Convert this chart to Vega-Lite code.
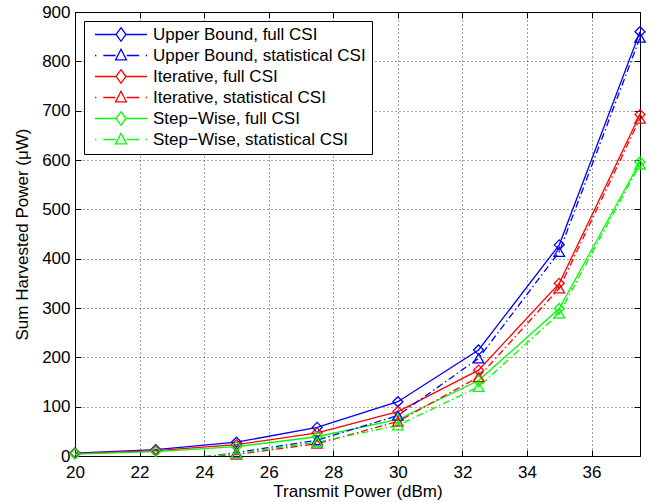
{
  "$schema": "https://vega.github.io/schema/vega-lite/v6.json",
  "width": 565,
  "height": 444,
  "autosize": {"type": "none"},
  "padding": {"left": 75, "top": 12, "right": 22, "bottom": 46},
  "background": "white",
  "config": {
    "font": "Liberation Sans",
    "view": {"stroke": "black", "strokeWidth": 1},
    "axis": {
      "labelFont": "Liberation Sans",
      "titleFont": "Liberation Sans",
      "labelFontSize": 17,
      "titleFontSize": 17,
      "titleFontWeight": "normal",
      "labelColor": "black",
      "titleColor": "black",
      "domainColor": "black",
      "tickColor": "black",
      "gridColor": "black",
      "gridDash": [1, 3],
      "gridOpacity": 0.75
    }
  },
  "data": {
    "values": [
      {"x": 20, "y": 6, "series": "Upper Bound, full CSI", "kind": "full"},
      {"x": 22.5, "y": 13, "series": "Upper Bound, full CSI", "kind": "full"},
      {"x": 25, "y": 28, "series": "Upper Bound, full CSI", "kind": "full"},
      {"x": 27.5, "y": 58, "series": "Upper Bound, full CSI", "kind": "full"},
      {"x": 30, "y": 110, "series": "Upper Bound, full CSI", "kind": "full"},
      {"x": 32.5, "y": 215, "series": "Upper Bound, full CSI", "kind": "full"},
      {"x": 35, "y": 428, "series": "Upper Bound, full CSI", "kind": "full"},
      {"x": 37.5, "y": 860, "series": "Upper Bound, full CSI", "kind": "full"},
      {"x": 20, "y": -40, "series": "Upper Bound, statistical CSI", "kind": "stat"},
      {"x": 22.5, "y": -15, "series": "Upper Bound, statistical CSI", "kind": "stat"},
      {"x": 25, "y": 7, "series": "Upper Bound, statistical CSI", "kind": "stat"},
      {"x": 27.5, "y": 32, "series": "Upper Bound, statistical CSI", "kind": "stat"},
      {"x": 30, "y": 82, "series": "Upper Bound, statistical CSI", "kind": "stat"},
      {"x": 32.5, "y": 198, "series": "Upper Bound, statistical CSI", "kind": "stat"},
      {"x": 35, "y": 414, "series": "Upper Bound, statistical CSI", "kind": "stat"},
      {"x": 37.5, "y": 848, "series": "Upper Bound, statistical CSI", "kind": "stat"},
      {"x": 20, "y": 5, "series": "Iterative, full CSI", "kind": "full"},
      {"x": 22.5, "y": 11, "series": "Iterative, full CSI", "kind": "full"},
      {"x": 25, "y": 23, "series": "Iterative, full CSI", "kind": "full"},
      {"x": 27.5, "y": 47, "series": "Iterative, full CSI", "kind": "full"},
      {"x": 30, "y": 90, "series": "Iterative, full CSI", "kind": "full"},
      {"x": 32.5, "y": 174, "series": "Iterative, full CSI", "kind": "full"},
      {"x": 35, "y": 350, "series": "Iterative, full CSI", "kind": "full"},
      {"x": 37.5, "y": 692, "series": "Iterative, full CSI", "kind": "full"},
      {"x": 20, "y": -40, "series": "Iterative, statistical CSI", "kind": "stat"},
      {"x": 22.5, "y": -12, "series": "Iterative, statistical CSI", "kind": "stat"},
      {"x": 25, "y": 3, "series": "Iterative, statistical CSI", "kind": "stat"},
      {"x": 27.5, "y": 25, "series": "Iterative, statistical CSI", "kind": "stat"},
      {"x": 30, "y": 70, "series": "Iterative, statistical CSI", "kind": "stat"},
      {"x": 32.5, "y": 160, "series": "Iterative, statistical CSI", "kind": "stat"},
      {"x": 35, "y": 340, "series": "Iterative, statistical CSI", "kind": "stat"},
      {"x": 37.5, "y": 684, "series": "Iterative, statistical CSI", "kind": "stat"},
      {"x": 20, "y": 4, "series": "Step\u2212Wise, full CSI", "kind": "full"},
      {"x": 22.5, "y": 9, "series": "Step\u2212Wise, full CSI", "kind": "full"},
      {"x": 25, "y": 19, "series": "Step\u2212Wise, full CSI", "kind": "full"},
      {"x": 27.5, "y": 39, "series": "Step\u2212Wise, full CSI", "kind": "full"},
      {"x": 30, "y": 74, "series": "Step\u2212Wise, full CSI", "kind": "full"},
      {"x": 32.5, "y": 153, "series": "Step\u2212Wise, full CSI", "kind": "full"},
      {"x": 35, "y": 299, "series": "Step\u2212Wise, full CSI", "kind": "full"},
      {"x": 37.5, "y": 596, "series": "Step\u2212Wise, full CSI", "kind": "full"},
      {"x": 20, "y": -40, "series": "Step\u2212Wise, statistical CSI", "kind": "stat"},
      {"x": 22.5, "y": -10, "series": "Step\u2212Wise, statistical CSI", "kind": "stat"},
      {"x": 25, "y": 5, "series": "Step\u2212Wise, statistical CSI", "kind": "stat"},
      {"x": 27.5, "y": 28, "series": "Step\u2212Wise, statistical CSI", "kind": "stat"},
      {"x": 30, "y": 62, "series": "Step\u2212Wise, statistical CSI", "kind": "stat"},
      {"x": 32.5, "y": 140, "series": "Step\u2212Wise, statistical CSI", "kind": "stat"},
      {"x": 35, "y": 289, "series": "Step\u2212Wise, statistical CSI", "kind": "stat"},
      {"x": 37.5, "y": 591, "series": "Step\u2212Wise, statistical CSI", "kind": "stat"}
    ]
  },
  "resolve": {"axis": {"x": "independent", "y": "independent"}},
  "layer": [
    {
      "transform": [{"filter": "datum.y > 100000"}],
      "mark": {"type": "point", "filled": false, "strokeWidth": 1.3, "opacity": 1},
      "encoding": {
        "x": {"field": "x", "type": "quantitative", "axis": null,
          "scale": {"domain": [20, 37.5], "nice": false, "zero": false}},
        "y": {"field": "y", "type": "quantitative", "axis": null,
          "scale": {"domain": [0, 900], "nice": false}},
        "color": {"field": "series", "type": "nominal",
          "scale": {"domain": ["Upper Bound, full CSI", "Upper Bound, statistical CSI", "Iterative, full CSI", "Iterative, statistical CSI", "Step\u2212Wise, full CSI", "Step\u2212Wise, statistical CSI"],
            "range": ["#0000ff", "#0000ff", "#ff0000", "#ff0000", "#00ff00", "#00ff00"]},
          "legend": {"disable": false, "title": null, "orient": "top-left", "offset": 9, "padding": 6, "strokeColor": "black", "fillColor": "white",
            "labelFont": "Liberation Sans", "labelFontSize": 17, "labelColor": "black", "symbolSize": 2704, "symbolStrokeWidth": 1.3,
            "symbolOffset": 4, "labelOffset": 5, "rowPadding": 3, "clipHeight": 15, "symbolOpacity": 1, "labelLimit": 400}},
        "shape": {"field": "series", "type": "nominal",
          "scale": {"domain": ["Upper Bound, full CSI", "Upper Bound, statistical CSI", "Iterative, full CSI", "Iterative, statistical CSI", "Step\u2212Wise, full CSI", "Step\u2212Wise, statistical CSI"],
            "range": [
              "M-1,0L-0.2,0M0.2,0L1,0M0,-0.26L0.19,0L0,0.26L-0.19,0Z",
              "M-1,0L-0.95,0M-0.68,0L-0.21,0M0.22,0L0.7,0M0.95,0L1,0M0,-0.24L0.21,0.17L-0.21,0.17Z",
              "M-1,0L-0.2,0M0.2,0L1,0M0,-0.26L0.19,0L0,0.26L-0.19,0Z",
              "M-1,0L-0.95,0M-0.68,0L-0.21,0M0.22,0L0.7,0M0.95,0L1,0M0,-0.24L0.21,0.17L-0.21,0.17Z",
              "M-1,0L-0.2,0M0.2,0L1,0M0,-0.26L0.19,0L0,0.26L-0.19,0Z",
              "M-1,0L-0.95,0M-0.68,0L-0.21,0M0.22,0L0.7,0M0.95,0L1,0M0,-0.24L0.21,0.17L-0.21,0.17Z"
            ]}}
      }
    },
    {
      "transform": [{"filter": "datum.kind == 'full'"}],
      "mark": {"type": "line", "strokeWidth": 1.3, "clip": true},
      "encoding": {
        "x": {"field": "x", "type": "quantitative",
          "axis": {"title": "Transmit Power (dBm)", "values": [20, 22, 24, 26, 28, 30, 32, 34, 36], "grid": true, "tickSize": -6, "labelPadding": 14, "titlePadding": 3, "labelFlush": false}},
        "y": {"field": "y", "type": "quantitative",
          "axis": {"title": "Sum Harvested Power (\u03bcW)", "values": [0, 100, 200, 300, 400, 500, 600, 700, 800, 900], "grid": true, "tickSize": -6, "labelPadding": 11, "titlePadding": 10, "labelFlush": false}},
        "color": {"field": "series", "type": "nominal", "legend": null},
        "order": {"field": "x", "type": "quantitative"}
      }
    },
    {
      "transform": [{"filter": "datum.kind == 'stat'"}],
      "mark": {"type": "line", "strokeWidth": 1.3, "clip": true, "strokeDash": [7, 3, 1.5, 3]},
      "encoding": {
        "x": {"field": "x", "type": "quantitative", "axis": null},
        "y": {"field": "y", "type": "quantitative", "axis": null},
        "color": {"field": "series", "type": "nominal", "legend": null},
        "order": {"field": "x", "type": "quantitative"}
      }
    },
    {
      "transform": [{"filter": "datum.kind == 'full' && datum.y >= 0"}],
      "mark": {"type": "point", "shape": "diamond", "filled": false, "size": 100, "strokeWidth": 1.3, "opacity": 1},
      "encoding": {
        "x": {"field": "x", "type": "quantitative",
          "axis": {"orient": "top", "title": null, "labels": false, "grid": false, "domain": false, "tickSize": -6, "values": [20, 22, 24, 26, 28, 30, 32, 34, 36]}},
        "y": {"field": "y", "type": "quantitative",
          "axis": {"orient": "right", "title": null, "labels": false, "grid": false, "domain": false, "tickSize": -6, "values": [0, 100, 200, 300, 400, 500, 600, 700, 800, 900]}},
        "color": {"field": "series", "type": "nominal", "legend": null}
      }
    },
    {
      "transform": [{"filter": "datum.kind == 'stat' && datum.y >= 0"}],
      "mark": {"type": "point", "shape": "triangle-up", "filled": false, "size": 110, "strokeWidth": 1.3, "opacity": 1},
      "encoding": {
        "x": {"field": "x", "type": "quantitative", "axis": null},
        "y": {"field": "y", "type": "quantitative", "axis": null},
        "color": {"field": "series", "type": "nominal", "legend": null}
      }
    }
  ]
}
